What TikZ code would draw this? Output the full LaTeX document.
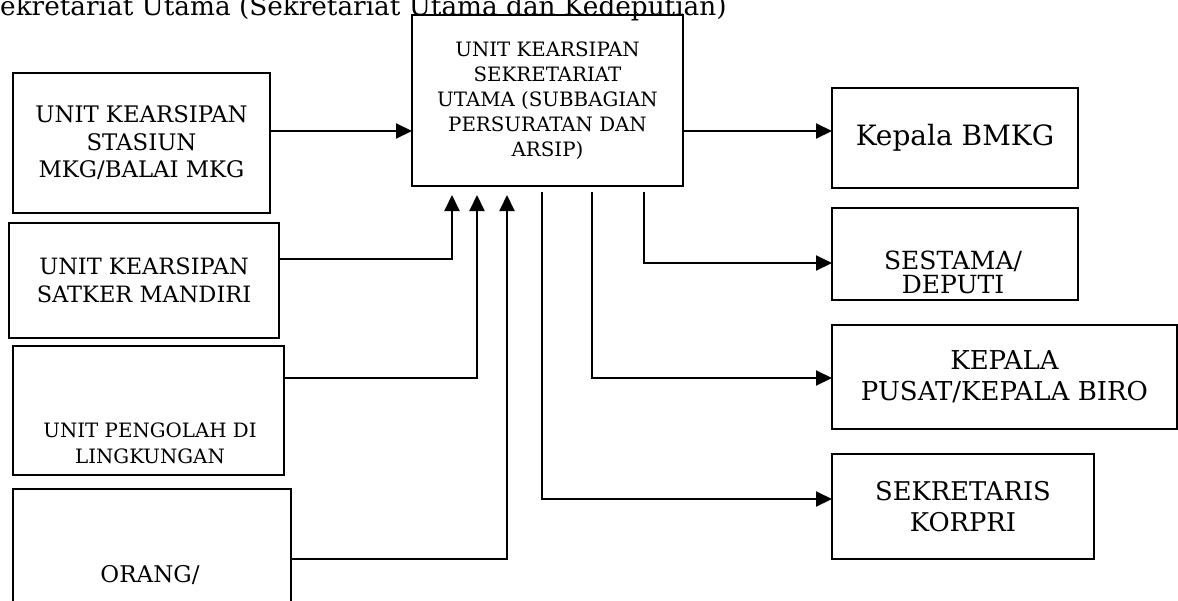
\documentclass[tikz,border=0pt]{standalone}
\usepackage{fontspec}
\setmainfont{DejaVu Serif}
\usetikzlibrary{arrows.meta,positioning}

\begin{document}
\begin{tikzpicture}[x=1pt,y=-1pt,
  kotak/.style={draw=black, line width=2pt, inner sep=0pt, outer sep=0pt, align=center},
  teks/.style={inner sep=0pt, align=center},
  panah/.style={line width=2pt, -{Triangle[length=16pt,width=15pt]}}]
\useasboundingbox (0,0) rectangle (1178,600);
\clip (0,0) rectangle (1178,600);
\node[anchor=base west, inner sep=0pt, font=\fontsize{26.3}{30}\selectfont] (judul) at (0,15)
  {\llap{S}ekretariat Utama (Sekretariat Utama dan Kedeputian)};
% unit pengirim (kiri)
\node[kotak, minimum width=257, minimum height=140, font=\fontsize{22.8}{27.5}\selectfont] (stasiun) at (141.5,143)
  {UNIT KEARSIPAN\\STASIUN\\MKG/BALAI MKG};
\node[kotak, minimum width=270, minimum height=115, font=\fontsize{22.5}{28}\selectfont] (satker) at (144,280.5)
  {UNIT KEARSIPAN\\SATKER MANDIRI};
\node[kotak, minimum width=271, minimum height=129] (pengolah) at (148.5,410.5) {};
\node[teks, font=\fontsize{19.8}{26}\selectfont] (pengolah-teks) at (150,443) {UNIT PENGOLAH DI\\LINGKUNGAN};
\node[kotak, minimum width=278, minimum height=151] (orang) at (152,564.5) {};
\node[teks, font=\fontsize{23}{26}\selectfont] (orang-teks) at (150,575) {ORANG/};
% unit kearsipan sekretariat utama
\node[kotak, minimum width=271, minimum height=171, font=\fontsize{19.8}{25}\selectfont] (sekut) at (547.5,100.5)
  {UNIT KEARSIPAN\\SEKRETARIAT\\UTAMA (SUBBAGIAN\\PERSURATAN DAN\\ARSIP)};
% tujuan (kanan)
\node[kotak, minimum width=246, minimum height=100, font=\fontsize{28}{32}\selectfont] (bmkg) at (955,138) {Kepala BMKG};
\node[kotak, minimum width=246, minimum height=92] (sestama) at (955,254) {};
\node[teks, font=\fontsize{25}{24}\selectfont] (sestama-teks) at (953,272) {SESTAMA/\\DEPUTI};
\node[kotak, minimum width=345, minimum height=104, font=\fontsize{26}{31}\selectfont] (pusat) at (1004.5,377)
  {KEPALA\\PUSAT/KEPALA BIRO};
\node[kotak, minimum width=262, minimum height=105, font=\fontsize{25.8}{31}\selectfont] (korpri) at (963,506.5)
  {SEKRETARIS\\KORPRI};
% ujung panah
\coordinate (masuk1) at (452,195);
\coordinate (masuk2) at (477,195);
\coordinate (masuk3) at (507,195);
\coordinate (keluar1) at (542,192);
\coordinate (keluar2) at (592,192);
\coordinate (keluar3) at (644,192);
\draw[panah] (stasiun.east |- 0,131) -- (sekut.west |- 0,131);
\draw[panah] (satker.east |- 0,259) -| (masuk1);
\draw[panah] (pengolah.east |- 0,378) -| (masuk2);
\draw[panah] (orang.east |- 0,559) -| (masuk3);
\draw[panah] (sekut.east |- 0,131) -- (bmkg.west |- 0,131);
\draw[panah] (keluar3) |- (sestama.west |- 0,263);
\draw[panah] (keluar2) |- (pusat.west |- 0,378);
\draw[panah] (keluar1) |- (korpri.west |- 0,499);
\end{tikzpicture}
\end{document}
